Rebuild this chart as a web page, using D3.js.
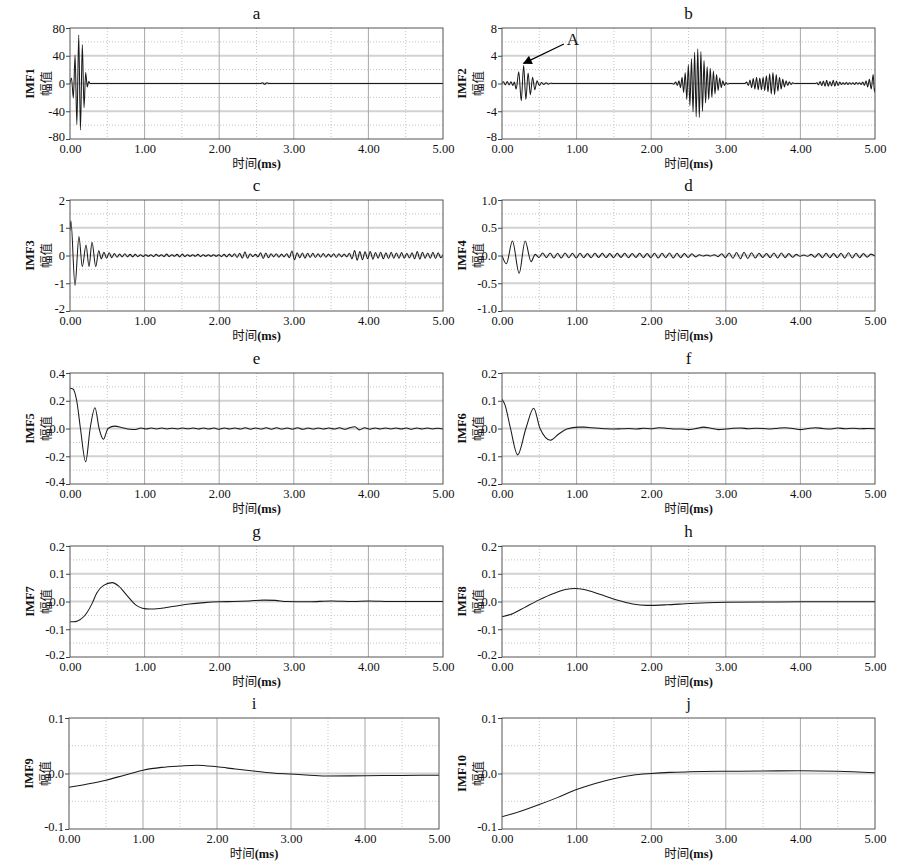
<!DOCTYPE html>
<html>
<head>
<meta charset="utf-8">
<script src="https://cdn.jsdelivr.net/npm/d3@7"></script>
<style>
  body { margin: 0; background: #fff; }
  svg text { font-family: "Liberation Serif", "Times New Roman", serif; fill: #111; }
  .cjk { font-family: "Noto Sans CJK SC", sans-serif; }
</style>
</head>
<body>
<svg id="chart" width="921" height="866"></svg>
<script>
// time axis, ms
var timeTicks = [0, 1, 2, 3, 4, 5];
var panelLetters = ["a", "b", "c", "d", "e", "f", "g", "h", "i", "j"];
var imfNames = ["IMF1", "IMF2", "IMF3", "IMF4", "IMF5", "IMF6", "IMF7", "IMF8", "IMF9", "IMF10"];

// y ticks per panel
var yTicks1 = [-80, -40, 0, 40, 80];
var yTicks2 = [-8, -4, 0, 4, 8];
var yTicks3 = [-2, -1, 0, 1, 2];
var yTicks4 = [-1, -0.5, 0, 0.5, 1];
var yTicks5 = [-0.4, -0.2, 0, 0.2, 0.4];
var yTicks6 = [-0.2, -0.1, 0, 0.1, 0.2];
var yTicks9 = [-0.1, 0, 0.1];
var yDecimals = [0, 0, 0, 1, 1, 1, 1, 1, 1, 1];

// [time ms, amplitude]
var imf1 = [[0,0],[0.02,8],[0.045,-21],[0.068,41],[0.092,-59],[0.117,70],[0.14,-67],[0.165,56],[0.188,-35],[0.21,16],
  [0.232,-5],[0.25,3],[0.27,0],[2.55,0],[2.58,1],[2.61,-1],[2.64,1],[2.67,0],[5,0]];

var imf2 = [[0,0],[0.02,0.25],[0.045,-0.2],[0.07,0.3],[0.095,-0.2],[0.12,0.25],[0.145,-0.3],[0.165,0.2],[0.19,-0.8],
  [0.225,1.7],[0.258,-2.5],[0.29,2.6],[0.32,-2.3],[0.35,1.5],[0.38,-1.6],[0.41,0.9],[0.44,-0.9],[0.47,0.4],[0.5,-0.3],
  [0.53,0.15],[0.56,-0.15],[0.59,0.12],[0.62,-0.1],[0.65,0.05],[0.68,0],
  [2.28,0],[2.3,-0.1],[2.33,0.2],[2.351,-0.3],[2.372,0.4],[2.393,-0.6],[2.414,0.9],[2.435,-1.3],[2.456,1.6],[2.477,-2.3],
  [2.498,2.7],[2.519,-3.2],[2.54,3.6],[2.561,-4.1],[2.582,4.5],[2.603,-4.8],[2.624,5.0],[2.645,-4.9],[2.666,4.6],
  [2.687,-4.0],[2.708,3.3],[2.729,-2.8],[2.75,2.4],[2.771,-2.3],[2.792,2.2],[2.813,-2.0],[2.834,1.8],[2.855,-1.5],
  [2.876,1.3],[2.897,-1.0],[2.918,0.8],[2.939,-0.6],[2.96,0.4],[2.981,-0.3],[3.002,0.15],[3.023,-0.1],[3.05,0],
  [3.25,0],[3.28,0.2],[3.302,-0.3],[3.324,0.5],[3.346,-0.6],[3.368,0.7],[3.39,-0.8],[3.412,0.9],[3.434,-0.9],[3.456,0.8],
  [3.478,-0.9],[3.5,0.9],[3.522,-1.0],[3.544,1.1],[3.566,-1.2],[3.588,1.4],[3.61,-1.5],[3.632,1.6],[3.654,-1.6],
  [3.676,1.3],[3.698,-1.1],[3.72,0.9],[3.742,-0.8],[3.764,0.6],[3.786,-0.5],[3.808,0.4],[3.83,-0.3],[3.852,0.25],
  [3.874,-0.15],[3.896,0.1],[3.92,0],
  [4.2,0],[4.22,0.1],[4.242,-0.2],[4.264,0.3],[4.286,-0.3],[4.308,0.35],[4.33,-0.4],[4.352,0.45],[4.374,-0.4],[4.396,0.3],
  [4.418,-0.35],[4.44,0.45],[4.462,-0.4],[4.484,0.35],[4.506,-0.3],[4.528,0.2],[4.55,-0.15],[4.572,0.1],[4.594,-0.12],
  [4.616,0.15],[4.638,-0.15],[4.66,0.12],[4.682,-0.1],[4.704,0.12],[4.726,-0.15],[4.748,0.15],[4.77,-0.1],[4.792,0.12],
  [4.814,-0.15],[4.836,0.2],[4.858,-0.3],[4.88,0.4],[4.902,-0.5],[4.924,0.6],[4.95,-0.8],[4.975,1.3],[4.993,-1.25],[5,-0.6]];

var imf3 = [[0,0.9],[0.012,1.25],[0.067,-1.08],[0.12,0.68],[0.165,-0.4],[0.215,0.38],[0.255,-0.4],[0.295,0.48],[0.345,-0.4],
  [0.385,0.17],[0.42,-0.12],[0.455,0.12],[0.49,-0.1],[0.525,0.1],[0.56,-0.08],[0.595,0.07],[0.63,-0.06],[0.665,0.05],
  [0.7,-0.05],[0.735,0.06],[0.77,-0.05],[0.805,0.04],[0.84,-0.05],[0.875,0.04],[0.91,-0.04],[0.945,0.03],[0.98,-0.04],
  [1.015,0.03],[1.05,-0.03],[1.085,0.03],[1.12,-0.04],[1.155,0.04],[1.19,-0.03],[1.225,0.03],[1.26,-0.04],[1.295,0.05],
  [1.33,-0.04],[1.365,0.03],[1.4,-0.03],[1.435,0.04],[1.47,-0.05],[1.505,0.05],[1.54,-0.04],[1.575,0.03],[1.61,-0.03],
  [1.645,0.03],[1.68,-0.03],[1.715,0.04],[1.75,-0.04],[1.785,0.03],[1.82,-0.03],[1.855,0.03],[1.89,-0.03],[1.925,0.03],
  [1.96,-0.03],[1.995,0.03],[2.03,-0.04],[2.065,0.04],[2.1,-0.05],[2.135,0.05],[2.17,-0.04],[2.205,0.06],[2.24,-0.07],
  [2.275,0.08],[2.31,-0.1],[2.345,0.13],[2.38,-0.1],[2.415,0.06],[2.45,-0.04],[2.485,0.04],[2.52,-0.05],[2.555,0.1],
  [2.59,-0.11],[2.625,0.09],[2.66,-0.08],[2.695,0.06],[2.73,-0.05],[2.765,0.06],[2.8,-0.06],[2.835,0.05],[2.87,-0.05],
  [2.905,0.06],[2.94,-0.08],[2.975,0.16],[3.01,-0.15],[3.045,0.1],[3.08,-0.08],[3.115,0.09],[3.15,-0.1],[3.185,0.08],
  [3.22,-0.07],[3.255,0.08],[3.29,-0.07],[3.325,0.06],[3.36,-0.06],[3.395,0.07],[3.43,-0.06],[3.465,0.05],[3.5,-0.05],
  [3.535,0.06],[3.57,-0.07],[3.605,0.06],[3.64,-0.05],[3.675,0.05],[3.71,-0.05],[3.745,0.08],[3.78,-0.12],[3.815,0.18],
  [3.85,-0.17],[3.885,0.14],[3.92,-0.15],[3.955,0.13],[3.99,-0.12],[4.025,0.14],[4.06,-0.13],[4.095,0.11],[4.13,-0.1],
  [4.165,0.12],[4.2,-0.12],[4.235,0.1],[4.27,-0.11],[4.305,0.12],[4.34,-0.1],[4.375,0.09],[4.41,-0.1],[4.445,0.11],
  [4.48,-0.1],[4.515,0.08],[4.55,-0.09],[4.585,0.1],[4.62,-0.12],[4.655,0.14],[4.69,-0.13],[4.725,0.12],[4.76,-0.1],
  [4.795,0.09],[4.83,-0.1],[4.865,0.12],[4.9,-0.11],[4.935,0.1],[4.97,-0.08],[5,0.02]];

var imf4 = [[0,0],[0.058,-0.15],[0.14,0.26],[0.23,-0.32],[0.31,0.26],[0.39,-0.11],[0.445,0.02],[0.495,-0.035],[0.545,0.045],
  [0.595,-0.04],[0.645,0.045],[0.695,-0.045],[0.745,0.04],[0.795,-0.045],[0.845,0.045],[0.895,-0.04],[0.945,0.04],
  [0.995,-0.045],[1.045,0.04],[1.095,-0.04],[1.145,0.035],[1.195,-0.04],[1.245,0.04],[1.295,-0.035],[1.345,0.04],
  [1.395,-0.04],[1.445,0.035],[1.495,-0.04],[1.545,0.04],[1.595,-0.035],[1.645,0.04],[1.695,-0.04],[1.745,0.035],
  [1.795,-0.035],[1.845,0.04],[1.895,-0.04],[1.945,0.035],[1.995,-0.04],[2.045,0.04],[2.095,-0.045],[2.145,0.04],
  [2.195,-0.04],[2.245,0.045],[2.295,-0.045],[2.345,0.04],[2.395,-0.04],[2.445,0.035],[2.495,-0.035],[2.545,0.03],
  [2.595,-0.025],[2.645,0.015],[2.695,-0.01],[2.745,0.01],[2.795,-0.01],[2.845,0.015],[2.895,-0.02],[2.945,0.03],
  [2.995,-0.04],[3.045,0.045],[3.095,-0.05],[3.145,0.055],[3.195,-0.06],[3.245,0.06],[3.295,-0.055],[3.345,0.05],
  [3.395,-0.045],[3.445,0.04],[3.495,-0.035],[3.545,0.035],[3.595,-0.04],[3.645,0.045],[3.695,-0.045],[3.745,0.045],
  [3.795,-0.04],[3.845,0.035],[3.895,-0.03],[3.945,0.02],[3.995,-0.015],[4.045,0.01],[4.095,-0.015],[4.145,0.02],
  [4.195,-0.03],[4.245,0.035],[4.295,-0.04],[4.345,0.04],[4.395,-0.04],[4.445,0.035],[4.495,-0.04],[4.545,0.04],
  [4.595,-0.045],[4.645,0.05],[4.695,-0.045],[4.745,0.04],[4.795,-0.04],[4.845,0.035],[4.895,-0.03],[4.945,0.025],[5,-0.01]];

var imf5 = [[0,0.29],[0.04,0.285],[0.09,0.2],[0.14,0],[0.21,-0.24],[0.27,0],[0.335,0.15],[0.39,0],[0.447,-0.078],[0.51,0],
  [0.6,0.017],[0.7,0.006],[0.8,-0.005],[0.88,-0.007],[0.95,0.003],[1.02,-0.004],[1.09,0.003],[1.16,-0.003],[1.23,0.003],
  [1.3,-0.003],[1.37,0.002],[1.44,-0.003],[1.51,0.003],[1.58,-0.002],[1.65,0.003],[1.72,-0.003],[1.79,0.004],[1.86,-0.004],
  [1.93,0.003],[2,-0.005],[2.07,0.004],[2.14,-0.003],[2.21,0.003],[2.28,-0.004],[2.35,0.005],[2.42,-0.005],[2.49,0.004],
  [2.56,-0.004],[2.63,0.005],[2.7,-0.006],[2.77,0.005],[2.84,-0.004],[2.91,0.004],[2.98,-0.005],[3.05,0.006],[3.12,-0.006],
  [3.19,0.004],[3.26,-0.004],[3.33,0.004],[3.4,-0.004],[3.47,0.003],[3.54,-0.004],[3.61,0.005],[3.68,-0.006],[3.75,0.006],
  [3.82,0.012],[3.88,-0.01],[3.95,0.005],[4.02,-0.005],[4.09,0.004],[4.16,-0.003],[4.23,0.003],[4.3,-0.003],[4.37,0.003],
  [4.44,-0.004],[4.51,0.003],[4.58,-0.005],[4.65,0.004],[4.72,-0.003],[4.79,0.003],[4.86,-0.003],[4.93,0.002],[5,-0.003]];

var imf6 = [[0,0.105],[0.04,0.085],[0.11,0.005],[0.21,-0.095],[0.32,0],[0.425,0.073],[0.51,0],[0.65,-0.042],[0.76,-0.02],
  [0.87,-0.002],[1.03,0.005],[1.1,0.005],[1.2,0.003],[1.3,0.001],[1.4,-0.001],[1.5,-0.002],[1.6,-0.001],[1.7,0],
  [1.8,-0.002],[1.9,0.001],[2,-0.001],[2.1,0.003],[2.2,0.001],[2.3,-0.002],[2.4,-0.002],[2.5,-0.004],[2.6,0],[2.7,0.005],
  [2.8,0.001],[2.9,-0.004],[3,-0.002],[3.1,0.001],[3.2,0.002],[3.3,-0.001],[3.4,0.001],[3.5,0],[3.6,-0.002],[3.7,0.001],
  [3.8,0.003],[3.9,0],[4,-0.004],[4.1,0],[4.2,0.003],[4.3,0],[4.4,-0.002],[4.5,0.002],[4.6,-0.001],[4.7,0.001],
  [4.8,-0.001],[4.9,0],[5,-0.001]];

var imf7 = [[0,-0.073],[0.05,-0.073],[0.1,-0.07],[0.22,-0.043],[0.3,-0.005],[0.357,0.03],[0.45,0.058],[0.567,0.068],
  [0.65,0.056],[0.76,0.023],[0.894,-0.015],[0.97,-0.024],[1.07,-0.027],[1.2,-0.025],[1.4,-0.017],[1.6,-0.009],[1.8,-0.004],
  [2,-0.001],[2.2,0],[2.4,0.002],[2.6,0.005],[2.75,0.004],[2.9,0],[3.2,-0.001],[3.5,0.002],[3.8,0],[4,0.002],[4.3,0],[5,0]];

var imf8 = [[0,-0.055],[0.15,-0.043],[0.3,-0.022],[0.49,0.005],[0.7,0.03],[0.85,0.043],[0.98,0.047],[1.1,0.043],
  [1.3,0.027],[1.54,0.005],[1.75,-0.009],[1.94,-0.014],[2.2,-0.012],[2.52,-0.007],[3,-0.003],[3.5,-0.002],[4,-0.001],[5,-0.001]];

var imf9 = [[0,-0.025],[0.25,-0.019],[0.5,-0.012],[0.75,-0.003],[1,0.006],[1.25,0.011],[1.5,0.0135],[1.725,0.015],[2,0.012],
  [2.25,0.008],[2.49,0.0045],[2.75,0.001],[2.99,-0.001],[3.25,-0.003],[3.5,-0.0045],[4,-0.004],[4.5,-0.0035],[5,-0.003]];

var imf10 = [[0,-0.078],[0.25,-0.068],[0.5,-0.056],[0.75,-0.043],[1,-0.029],[1.25,-0.018],[1.51,-0.009],[1.75,-0.003],
  [2,0],[2.25,0.002],[2.5,0.003],[3,0.004],[3.5,0.0045],[4,0.005],[4.5,0.004],[5,0.0015]];

// arrow "A" on IMF2: tail, tip and label in data coords
var arrowTail = [0.83, 5.7];
var arrowTip = [0.29, 2.9];
var arrowLabel = [0.95, 6.4];

var panelData = [imf1, imf2, imf3, imf4, imf5, imf6, imf7, imf8, imf9, imf10];
var panelTicks = [yTicks1, yTicks2, yTicks3, yTicks4, yTicks5, yTicks6, yTicks6, yTicks6, yTicks9, yTicks9];

// layout
var colX = [[70, 443], [502, 875]];
var rowY = [28, 200, 373, 546, 718];
var plotH = 111;

var svg = d3.select("#chart");
svg.append("rect").attr("width", 921).attr("height", 866).attr("fill", "#fff");

var defs = svg.append("defs");
defs.append("marker").attr("id", "arrowhead")
    .attr("viewBox", "0 0 10 10").attr("refX", 9).attr("refY", 5)
    .attr("markerWidth", 11).attr("markerHeight", 9)
    .attr("markerUnits", "userSpaceOnUse").attr("orient", "auto")
  .append("path").attr("d", "M0,0L10,5L0,10z").attr("fill", "#000");

function midpoints(arr) {
    var out = [];
    for (var k = 0; k < arr.length - 1; k++) out.push((arr[k] + arr[k + 1]) / 2);
    return out;
}

function drawPanel(i) {
    var col = i % 2, row = Math.floor(i / 2);
    var x0 = colX[col][0], x1 = colX[col][1];
    if (i == 8) { x0 = 69; x1 = 439; }
    var top = rowY[row], bottom = top + plotH;
    var ticks = panelTicks[i];
    var dec = yDecimals[i];

    var x = d3.scaleLinear().domain([0, 5]).range([x0, x1]);
    var y = d3.scaleLinear().domain([ticks[0], ticks[ticks.length - 1]]).range([bottom, top]);

    var g = svg.append("g");

    // minor grid, dotted
    g.selectAll(".vmin").data(midpoints(timeTicks)).enter().append("line")
        .attr("x1", function (d) { return x(d); }).attr("x2", function (d) { return x(d); })
        .attr("y1", top).attr("y2", bottom)
        .attr("stroke", "#c4c4c4").attr("stroke-dasharray", "1,2");
    g.selectAll(".hmin").data(midpoints(ticks)).enter().append("line")
        .attr("x1", x0).attr("x2", x1)
        .attr("y1", function (d) { return y(d); }).attr("y2", function (d) { return y(d); })
        .attr("stroke", "#c4c4c4").attr("stroke-dasharray", "1,2");

    // major grid
    g.selectAll(".hmaj").data(ticks.slice(1, -1)).enter().append("line")
        .attr("x1", x0).attr("x2", x1)
        .attr("y1", function (d) { return y(d); }).attr("y2", function (d) { return y(d); })
        .attr("stroke", "#d2d2d2").attr("stroke-width", 1.8);
    g.selectAll(".vmaj").data(timeTicks.slice(1, -1)).enter().append("line")
        .attr("x1", function (d) { return x(d); }).attr("x2", function (d) { return x(d); })
        .attr("y1", top).attr("y2", bottom)
        .attr("stroke", "#a8a8a8").attr("stroke-width", 1);

    // signal
    var clipId = "clip" + i;
    defs.append("clipPath").attr("id", clipId).append("rect")
        .attr("x", x0).attr("y", top).attr("width", x1 - x0).attr("height", plotH);
    var line = d3.line()
        .x(function (d) { return x(d[0]); })
        .y(function (d) { return y(d[1]); })
        .curve(d3.curveMonotoneX);
    g.append("path").datum(panelData[i])
        .attr("clip-path", "url(#" + clipId + ")")
        .attr("d", line).attr("fill", "none")
        .attr("stroke", "#1a1a1a").attr("stroke-width", 1.05);

    // frame
    g.append("rect").attr("x", x0).attr("y", top).attr("width", x1 - x0).attr("height", plotH)
        .attr("fill", "none").attr("stroke", "#555").attr("stroke-width", 1);

    // axes
    var xAxis = d3.axisBottom(x).tickValues(timeTicks).tickSize(0).tickPadding(5)
        .tickFormat(function (d) { return d.toFixed(2); });
    var gx = g.append("g").attr("transform", "translate(0," + bottom + ")").call(xAxis);
    var yAxis = d3.axisLeft(y).tickValues(ticks).tickSize(4).tickPadding(1)
        .tickFormat(function (d) { return d.toFixed(dec); });
    var gy = g.append("g").attr("transform", "translate(" + x0 + ",0)").call(yAxis);
    [gx, gy].forEach(function (a) {
        a.select(".domain").remove();
        a.attr("font-family", null).attr("font-size", null);
        a.selectAll("text").attr("font-size", "12.5px").attr("fill", "#111");
        a.selectAll("line").attr("stroke", "#444");
    });
    // lowest y label sits a touch higher so it clears the 0.00 label
    gy.selectAll("text").filter(function (d) { return d == ticks[0]; }).attr("dy", "0.1em");

    // titles
    g.append("text").attr("x", (x0 + x1) / 2).attr("y", top - 9)
        .attr("text-anchor", "middle").attr("font-size", "17px").text(panelLetters[i]);

    var xt = g.append("text").attr("x", (x0 + x1) / 2).attr("y", bottom + 29)
        .attr("text-anchor", "middle").attr("font-size", "12.5px");
    xt.append("tspan").attr("class", "cjk").text("时间");
    xt.append("tspan").attr("font-weight", "bold").text("(ms)");

    var cy = (top + bottom) / 2;
    g.append("text").attr("transform", "translate(" + (x0 - 40) + "," + cy + ") rotate(-90)")
        .attr("text-anchor", "middle").attr("dominant-baseline", "central")
        .attr("font-size", "12.5px").attr("font-weight", "bold").text(imfNames[i]);
    g.append("text").attr("class", "cjk").attr("transform", "translate(" + (x0 - 25) + "," + cy + ") rotate(-90)")
        .attr("text-anchor", "middle").attr("dominant-baseline", "central")
        .attr("font-size", "12.5px").text("幅值");

    // annotation on b
    if (i == 1) {
        g.append("line")
            .attr("x1", x(arrowTail[0])).attr("y1", y(arrowTail[1]))
            .attr("x2", x(arrowTip[0])).attr("y2", y(arrowTip[1]))
            .attr("stroke", "#000").attr("stroke-width", 1.2)
            .attr("marker-end", "url(#arrowhead)");
        g.append("text").attr("x", x(arrowLabel[0])).attr("y", y(arrowLabel[1]) + 6)
            .attr("text-anchor", "middle").attr("font-size", "17px").text("A");
    }
}

for (var i = 0; i < panelData.length; i++) {
    drawPanel(i);
}
</script>
</body>
</html>
